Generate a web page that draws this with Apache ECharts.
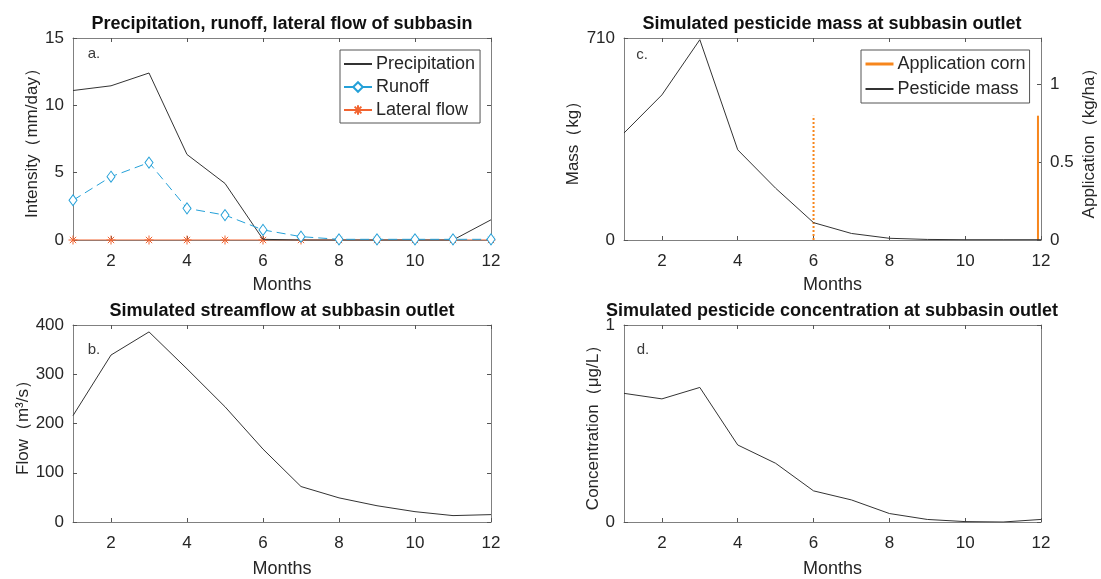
<!DOCTYPE html>
<html>
<head>
<meta charset="utf-8">
<script src="https://cdn.jsdelivr.net/npm/echarts@6/dist/echarts.min.js"></script>
<style>
  html, body { margin: 0; padding: 0; background: #fff; }
  #main { width: 1101px; height: 579px; }
</style>
</head>
<body>
<div id="main"></div>
<script>
// data
var months = [1, 2, 3, 4, 5, 6, 7, 8, 9, 10, 11, 12];
var monthTicks = [2, 4, 6, 8, 10, 12];
var precipitation = [11.1, 11.45, 12.4, 6.35, 4.2, 0.05, 0, 0, 0, 0, 0, 1.5];
var runoff = [2.95, 4.7, 5.75, 2.35, 1.85, 0.75, 0.25, 0.05, 0.05, 0.05, 0.05, 0.05];
var lateralFlow = [0, 0, 0, 0, 0, 0, 0, 0, 0, 0, 0, 0];
var streamflow = [216, 339, 386, 311, 234, 148, 72, 49, 33, 21, 13, 15];
var pesticideMass = [376, 510, 704, 317, 182, 61, 23, 6, 2, 1, 1, 1];
var concentration = [0.653, 0.625, 0.683, 0.391, 0.298, 0.158, 0.112, 0.043, 0.013, 0.002, 0, 0.013];
var appMonths = [11.92, 6];
var appRate = [0.8, 0.8];

var FONT = '"Liberation Sans", Arial, sans-serif';
var AXIS_COLOR = '#808080';
var TEXT_COLOR = '#262626';

function pairs(xs, ys) {
  return xs.map(function (x, i) { return [x, ys[i]]; });
}

var grids = [
  { left: 73, top: 38, width: 418, height: 202 },   // a
  { left: 73, top: 325, width: 418, height: 203 },  // b
  { left: 624, top: 38, width: 417, height: 202 },  // c
  { left: 624, top: 325, width: 417, height: 203 }  // d
];

function xAxisFor(i, pos, nameGap) {
  var bottom = pos === 'bottom';
  return {
    type: 'value', gridIndex: i, position: pos, min: 1, max: 12,
    name: bottom ? 'Months' : '', nameLocation: 'middle', nameGap: nameGap,
    nameTextStyle: { fontFamily: FONT, fontSize: 18, color: TEXT_COLOR },
    axisLine: { show: true, onZero: false, lineStyle: { color: AXIS_COLOR } },
    axisTick: { show: true, inside: true, length: 4, customValues: monthTicks, lineStyle: { color: '#555' } },
    axisLabel: { show: bottom, customValues: monthTicks, margin: 13, fontFamily: FONT, fontSize: 17, color: TEXT_COLOR },
    splitLine: { show: false }
  };
}

function yAxisFor(i, pos, opt) {
  return {
    type: 'value', gridIndex: i, position: pos,
    min: opt.min, max: opt.max, interval: opt.interval,
    name: opt.name || '', nameLocation: 'middle', nameGap: opt.nameGap || 0,
    nameTextStyle: { fontFamily: FONT, fontSize: 17, color: TEXT_COLOR },
    axisLine: { show: true, onZero: false, lineStyle: { color: AXIS_COLOR } },
    axisTick: { show: true, inside: true, length: 4, lineStyle: { color: '#555' } },
    axisLabel: { show: !!opt.labels, margin: 9, fontFamily: FONT, fontSize: 17, color: TEXT_COLOR, showMaxLabel: opt.showMax !== false },
    splitLine: { show: false }
  };
}

var xAxes = [], yAxes = [];
var monthsGap = [36, 38, 36, 38];
for (var g = 0; g < 4; g++) {
  xAxes.push(xAxisFor(g, 'bottom', monthsGap[g]));
  xAxes.push(xAxisFor(g, 'top', 0));
}
// a
yAxes.push(yAxisFor(0, 'left', { min: 0, max: 15, interval: 5, labels: true, name: 'Intensity（mm/day）', nameGap: 30 }));
yAxes.push(yAxisFor(0, 'right', { min: 0, max: 15, interval: 5 }));
// b
yAxes.push(yAxisFor(1, 'left', { min: 0, max: 400, interval: 100, labels: true, name: 'Flow（m³/s）', nameGap: 41 }));
yAxes.push(yAxisFor(1, 'right', { min: 0, max: 400, interval: 100 }));
// c
yAxes.push(yAxisFor(2, 'left', { min: 0, max: 710, interval: 710, labels: true, name: 'Mass（kg）', nameGap: 42 }));
yAxes.push(yAxisFor(2, 'right', { min: 0, max: 1.3, interval: 0.5, labels: true, showMax: false, name: 'Application（kg/ha）', nameGap: 40 }));
// d
yAxes.push(yAxisFor(3, 'left', { min: 0, max: 1, interval: 1, labels: true, name: 'Concentration（μg/L）', nameGap: 22 }));
yAxes.push(yAxisFor(3, 'right', { min: 0, max: 1, interval: 1 }));

var titles = [
  { text: 'Precipitation, runoff, lateral flow of subbasin', x: 282, y: 15 },
  { text: 'Simulated streamflow at subbasin outlet', x: 282, y: 302 },
  { text: 'Simulated pesticide mass at subbasin outlet', x: 832, y: 15 },
  { text: 'Simulated pesticide concentration at subbasin outlet', x: 832, y: 302 }
].map(function (t) {
  return {
    text: t.text, left: t.x, top: t.y, textAlign: 'center', padding: 0,
    textStyle: { fontFamily: FONT, fontSize: 18, fontWeight: 'bold', color: '#111' }
  };
});

var panelTags = [['a.', 94, 54], ['b.', 94, 350], ['c.', 642, 55], ['d.', 643, 350]].map(function (p) {
  return {
    type: 'text', x: p[1], y: p[2],
    style: { text: p[0], fontFamily: FONT, fontSize: 15, fill: '#3a3a3a', textAlign: 'center', textVerticalAlign: 'middle' }
  };
});

var asterisk = 'path://M5,0L5,10M0,5L10,5M1.5,1.5L8.5,8.5M1.5,8.5L8.5,1.5';
var noMarker = { opacity: 0 };

var option = {
  animation: false,
  backgroundColor: '#fff',
  title: titles,
  grid: grids,
  xAxis: xAxes,
  yAxis: yAxes,
  graphic: panelTags,
  legend: [
    {
      left: 340, top: 50, orient: 'vertical', itemWidth: 28, itemHeight: 12, itemGap: 5,
      padding: [5, 5, 4, 3], borderColor: '#555', borderWidth: 1, backgroundColor: '#fff',
      textStyle: { fontFamily: FONT, fontSize: 18, color: TEXT_COLOR, padding: [0, 0, 0, -1] },
      data: [
        { name: 'Precipitation', itemStyle: noMarker },
        { name: 'Runoff', lineStyle: { type: 'solid' } },
        { name: 'Lateral flow' }
      ]
    },
    {
      left: 861, top: 50, orient: 'vertical', itemWidth: 28, itemHeight: 12, itemGap: 7,
      padding: [5, 4, 5, 3], borderColor: '#555', borderWidth: 1, backgroundColor: '#fff',
      textStyle: { fontFamily: FONT, fontSize: 18, color: TEXT_COLOR, padding: [0, 0, 0, -1] },
      data: [
        { name: 'Application corn', itemStyle: noMarker, lineStyle: { width: 3 } },
        { name: 'Pesticide mass', itemStyle: noMarker }
      ]
    }
  ],
  series: [
    {
      name: 'Precipitation', type: 'line', xAxisIndex: 0, yAxisIndex: 0,
      data: pairs(months, precipitation), showSymbol: false, symbol: 'none',
      lineStyle: { color: '#333', width: 1 }, itemStyle: { color: '#333' }, z: 3
    },
    {
      name: 'Runoff', type: 'line', xAxisIndex: 0, yAxisIndex: 0,
      data: pairs(months, runoff), symbol: 'diamond', symbolSize: [8, 11],
      lineStyle: { color: '#24a0d8', width: 1, type: [9, 5] },
      itemStyle: { color: '#fff', borderColor: '#24a0d8', borderWidth: 1 }, z: 4
    },
    {
      name: 'Lateral flow', type: 'line', xAxisIndex: 0, yAxisIndex: 0,
      data: pairs(months, lateralFlow), symbol: asterisk, symbolSize: 9,
      lineStyle: { color: '#f26430', width: 1 },
      itemStyle: { color: '#f26430', borderColor: '#f26430', borderWidth: 1 }, z: 2
    },
    {
      name: 'Streamflow', type: 'line', xAxisIndex: 2, yAxisIndex: 2,
      data: pairs(months, streamflow), showSymbol: false, symbol: 'none',
      lineStyle: { color: '#333', width: 1 }
    },
    {
      name: 'Application corn', type: 'line', xAxisIndex: 4, yAxisIndex: 5,
      data: [[appMonths[0], 0], [appMonths[0], appRate[0]]], showSymbol: false, symbol: 'none',
      lineStyle: { color: '#f7861c', width: 2 }, itemStyle: { color: '#f7861c' }
    },
    {
      name: 'Application corn', type: 'line', xAxisIndex: 4, yAxisIndex: 5,
      data: [[appMonths[1], 0], [appMonths[1], appRate[1]]], showSymbol: false, symbol: 'none',
      lineStyle: { color: '#f7861c', width: 2, type: [2, 2] }, itemStyle: { color: '#f7861c' }
    },
    {
      name: 'Pesticide mass', type: 'line', xAxisIndex: 4, yAxisIndex: 4,
      data: pairs(months, pesticideMass), showSymbol: false, symbol: 'none',
      lineStyle: { color: '#333', width: 1 }, itemStyle: { color: '#333' }
    },
    {
      name: 'Concentration', type: 'line', xAxisIndex: 6, yAxisIndex: 6,
      data: pairs(months, concentration), showSymbol: false, symbol: 'none',
      lineStyle: { color: '#333', width: 1 }
    }
  ]
};

var myChart = echarts.init(document.getElementById('main'), null, { renderer: 'canvas' });
myChart.setOption(option, true);
window.addEventListener('resize', function () {
  myChart.resize();
});
</script>
</body>
</html>
